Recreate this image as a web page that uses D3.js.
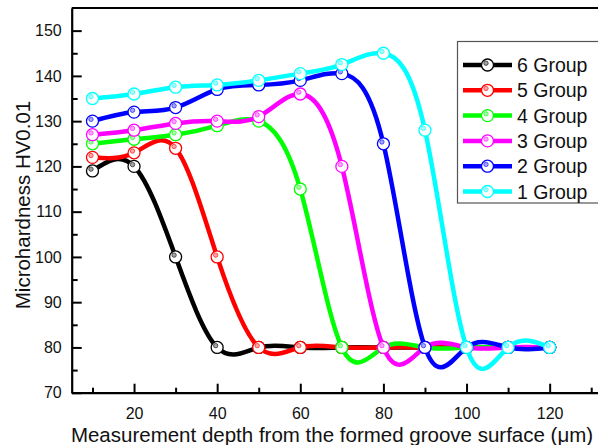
<!DOCTYPE html>
<html>
<head>
<meta charset="utf-8">
<script src="https://cdn.jsdelivr.net/npm/d3@7"></script>
<style>
  body { margin: 0; background: #fff; }
  svg { display: block; font-family: Arial, "Liberation Sans", sans-serif; }
</style>
</head>
<body>
<svg id="chart" width="598" height="445"></svg>
<script>
// Measurement depths (µm)
const depths = [10, 20, 30, 40, 50, 60, 70, 80, 90, 100, 110, 120];

// Microhardness HV0.01 for each group
const group6 = [119, 120, 100, 80, 80, 80, 80, 80, 80, 80, 80, 80];
const group5 = [122, 123, 124, 100, 80, 80, 80, 80, 80, 80, 80, 80];
const group4 = [125, 126, 127, 129, 130, 115, 80, 80, 80, 80, 80, 80];
const group3 = [127, 128, 129.5, 130, 131, 136, 120, 80, 80, 80, 80, 80];
const group2 = [130, 132, 133, 137, 138, 139, 140.5, 125, 80, 80, 80, 80];
const group1 = [135, 136, 137.5, 138, 139, 140.5, 142.5, 145, 128, 80, 80, 80];

const groupNames = ["6 Group", "5 Group", "4 Group", "3 Group", "2 Group", "1 Group"];
const groupValues = [group6, group5, group4, group3, group2, group1];
const groupColors = ["#000000", "#ff0000", "#00ff00", "#ff00ff", "#0000ff", "#00ffff"];

// Axis ticks
const xMajorTicks = [20, 40, 60, 80, 100, 120];
const xMinorTicks = [10, 30, 50, 70, 90, 110, 130];
const yMajorTicks = [70, 80, 90, 100, 110, 120, 130, 140, 150];
const yMinorTicks = [75, 85, 95, 105, 115, 125, 135, 145];

const svg = d3.select("#chart");

const x = d3.scaleLinear().domain([5, 135]).range([71.7, 612]);
const y = d3.scaleLinear().domain([70, 155]).range([392.7, 8]);

// ---- axes ----
const xAxisG = svg.append("g").attr("transform", `translate(0,${y(70)})`);
xAxisG.call(d3.axisBottom(x).tickValues(xMajorTicks).tickSize(-9).tickSizeOuter(0).tickPadding(15));
xAxisG.append("g").call(d3.axisBottom(x).tickValues(xMinorTicks).tickSize(-5).tickSizeOuter(0).tickFormat(""))
  .select(".domain").remove();

const yAxisG = svg.append("g").attr("transform", `translate(${x(5)},0)`);
yAxisG.call(d3.axisLeft(y).tickValues(yMajorTicks).tickSize(-10).tickSizeOuter(0).tickPadding(10));
yAxisG.append("g").call(d3.axisLeft(y).tickValues(yMinorTicks).tickSize(-6).tickSizeOuter(0).tickFormat(""))
  .select(".domain").remove();

svg.selectAll(".domain").attr("stroke", "#000").attr("stroke-width", 2.2);
svg.selectAll(".tick line").attr("stroke", "#000").attr("stroke-width", 2);
svg.selectAll(".tick text").attr("font-size", 16).attr("fill", "#111")
  .attr("font-family", "Arial, 'Liberation Sans', sans-serif");

// top frame line
svg.append("line")
  .attr("x1", x(5)).attr("x2", 598)
  .attr("y1", y(155)).attr("y2", y(155))
  .attr("stroke", "#000").attr("stroke-width", 2);

// ---- axis titles ----
svg.append("text")
  .attr("x", 332).attr("y", 442)
  .attr("text-anchor", "middle")
  .attr("font-size", 20.5).attr("fill", "#111")
  .text("Measurement depth from the formed groove surface (μm)");

svg.append("text")
  .attr("transform", "translate(30,205) rotate(-90)")
  .attr("text-anchor", "middle")
  .attr("font-size", 20.5).attr("fill", "#111")
  .text("Microhardness HV0.01");

// ---- series ----
const line = d3.line()
  .x((d, i) => x(depths[i]))
  .y(d => y(d))
  .curve(d3.curveNatural);

function drawMarker(g, cx, cy, color) {
  g.append("circle")
    .attr("cx", cx).attr("cy", cy).attr("r", 6)
    .attr("fill", "#fff").attr("stroke", color).attr("stroke-width", 1.3);
  g.append("circle")
    .attr("cx", cx - 1.5).attr("cy", cy - 1.8).attr("r", 2.2)
    .attr("fill", color).attr("fill-opacity", 0.35)
    .attr("stroke", color).attr("stroke-opacity", 0.75).attr("stroke-width", 0.8);
}

groupValues.forEach((vals, k) => {
  const color = groupColors[k];
  const g = svg.append("g");
  g.append("path")
    .attr("d", line(vals))
    .attr("fill", "none")
    .attr("stroke", color)
    .attr("stroke-width", 4.5)
    .attr("stroke-linejoin", "round");
  vals.forEach((v, i) => drawMarker(g, x(depths[i]), y(v), color));
});

// ---- legend ----
const legend = svg.append("g");
legend.append("rect")
  .attr("x", 457.5).attr("y", 41.5)
  .attr("width", 160).attr("height", 161.5)
  .attr("fill", "#fff").attr("stroke", "#555").attr("stroke-width", 1.2);

groupNames.forEach((name, k) => {
  const ry = 65 + k * 25.3;
  const color = groupColors[k];
  legend.append("line")
    .attr("x1", 463).attr("x2", 512)
    .attr("y1", ry).attr("y2", ry)
    .attr("stroke", color).attr("stroke-width", 4.5);
  drawMarker(legend, 487.5, ry, color);
  legend.append("text")
    .attr("x", 517).attr("y", ry + 7)
    .attr("font-size", 19.5).attr("fill", "#111")
    .text(name);
});
</script>
</body>
</html>
